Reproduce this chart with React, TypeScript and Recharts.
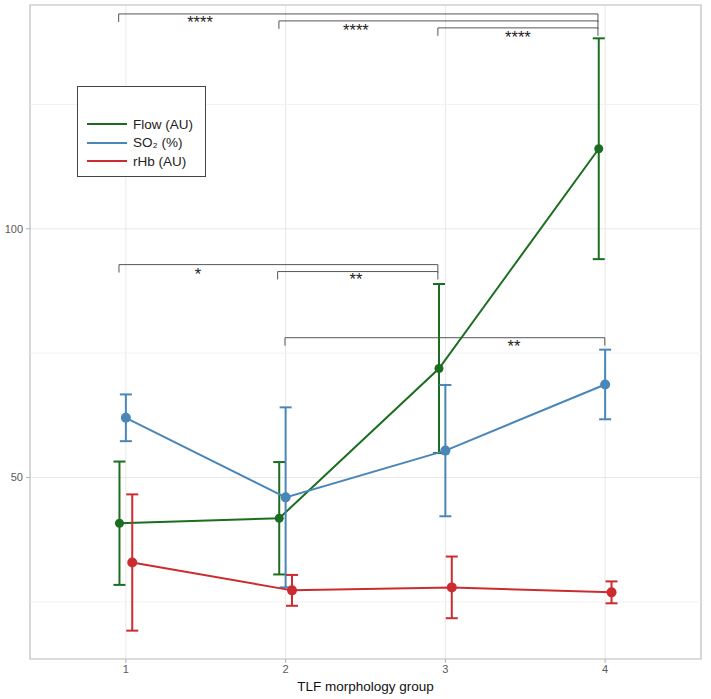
import React from 'react';
import {
  ComposedChart,
  Line,
  ErrorBar,
  XAxis,
  YAxis,
  CartesianGrid,
  ReferenceLine,
  ReferenceDot,
  ReferenceArea,
  Label,
} from 'recharts';

// groups on the x axis, series are dodged a little around each group
const groups = [1, 2, 3, 4];
const dodge = 0.04;

const flowMean = [40.8, 41.8, 71.9, 116.1];
const flowSd = [12.4, 11.3, 17.0, 22.2];

const so2Mean = [62.0, 46.0, 55.4, 68.7];
const so2Sd = [4.7, 18.1, 13.2, 7.0];

const rhbMean = [32.9, 27.3, 27.9, 26.9];
const rhbSd = [13.7, 3.1, 6.2, 2.2];

const yTicks = [50, 100];
const yMinor = [25, 75, 125];

// significance brackets: from group x1 to x2 at height y
const brackets = [
  { x1: 0.955, x2: 3.955, y: 143.2, label: '****', labelX: 1.464, labelY: 141.6 },
  { x1: 1.958, x2: 3.955, y: 141.8, label: '****', labelX: 2.44, labelY: 140.0 },
  { x1: 2.953, x2: 3.955, y: 140.4, label: '****', labelX: 3.454, labelY: 138.6 },
  { x1: 0.957, x2: 2.953, y: 92.8, label: '*', labelX: 1.451, labelY: 90.8 },
  { x1: 1.95, x2: 2.953, y: 91.4, label: '**', labelX: 2.44, labelY: 89.8 },
  { x1: 1.996, x2: 3.998, y: 78.1, label: '**', labelX: 3.429, labelY: 76.5 },
];
const bracketDrop = 1.6;

const series = [
  { name: 'Flow (AU)', mean: flowMean, sd: flowSd, shift: -dodge, color: '#1b6e1f', r: 4.5 },
  { name: 'SO₂ (%)', mean: so2Mean, sd: so2Sd, shift: 0, color: '#4a86b8', r: 5 },
  { name: 'rHb (AU)', mean: rhbMean, sd: rhbSd, shift: dodge, color: '#cc2c30', r: 5 },
];

const FONT = '"Liberation Sans", Arial, sans-serif';
const X_DOMAIN = [0.4, 4.6];
const Y_DOMAIN = [13.5, 145];

export default function App() {
  return (
    <div style={{ position: 'absolute', left: 0, top: 0, width: 711, height: 699, background: '#fff', fontFamily: FONT }}>
      <ComposedChart width={711} height={699} margin={{ top: 5, right: 10, bottom: 0, left: 0 }}>
        <CartesianGrid stroke="#e8e8e8" strokeWidth={1} />
        {yMinor.map((v) => (
          <ReferenceLine key={`minor-${v}`} y={v} stroke="#f2f2f2" strokeWidth={1} />
        ))}
        <XAxis
          type="number"
          dataKey="x"
          domain={X_DOMAIN}
          ticks={groups}
          allowDataOverflow
          axisLine={false}
          tickLine={{ stroke: '#b3b3b3' }}
          tickSize={4}
          tickMargin={2}
          height={40}
          tick={{ fill: '#5a5a5a', fontSize: 11, fontFamily: FONT }}
        >
          <Label value="TLF morphology group" position="insideBottom" offset={8} fill="#111" fontSize={13.5} fontFamily={FONT} />
        </XAxis>
        <YAxis
          type="number"
          domain={Y_DOMAIN}
          ticks={yTicks}
          allowDataOverflow
          axisLine={false}
          tickLine={{ stroke: '#b3b3b3' }}
          tickSize={4}
          tickMargin={3}
          width={30}
          tick={{ fill: '#5a5a5a', fontSize: 11, fontFamily: FONT }}
        />
        <ReferenceArea x1={X_DOMAIN[0]} x2={X_DOMAIN[1]} y1={Y_DOMAIN[0]} y2={Y_DOMAIN[1]} fill="none" stroke="#c4c4c4" strokeWidth={1.2} />

        {brackets.map((b, i) => (
          <ReferenceLine
            key={`bl-${i}`}
            segment={[{ x: b.x1, y: b.y - bracketDrop }, { x: b.x1, y: b.y }]}
            stroke="#555"
            strokeWidth={1}
          />
        ))}
        {brackets.map((b, i) => (
          <ReferenceLine
            key={`bm-${i}`}
            segment={[{ x: b.x1, y: b.y }, { x: b.x2, y: b.y }]}
            stroke="#555"
            strokeWidth={1}
          />
        ))}
        {brackets.map((b, i) => (
          <ReferenceLine
            key={`br-${i}`}
            segment={[{ x: b.x2, y: b.y }, { x: b.x2, y: b.y - bracketDrop }]}
            stroke="#555"
            strokeWidth={1}
          />
        ))}
        {brackets.map((b, i) => (
          <ReferenceDot
            key={`bt-${i}`}
            x={b.labelX}
            y={b.labelY}
            r={0}
            fill="none"
            stroke="none"
            label={{ value: b.label, position: 'center', fill: '#222', fontSize: 16.5, fontFamily: FONT }}
          />
        ))}

        {series.map((s) => (
          <Line
            key={s.name}
            name={s.name}
            data={groups.map((g, i) => ({ x: g + s.shift, v: s.mean[i], e: s.sd[i] }))}
            dataKey="v"
            stroke={s.color}
            strokeWidth={2}
            dot={{ r: s.r, fill: s.color, stroke: s.color, strokeWidth: 0 }}
            activeDot={false}
            isAnimationActive={false}
          >
            <ErrorBar dataKey="e" direction="y" width={6} stroke={s.color} strokeWidth={2} />
          </Line>
        ))}
      </ComposedChart>

      {/* Legend */}
      <div
        style={{
          position: 'absolute',
          left: 77,
          top: 86,
          width: 129,
          height: 91,
          border: '1px solid #444',
          boxSizing: 'border-box',
          background: '#fff',
        }}
      >
        {series.map((s, i) => (
          <div
            key={s.name}
            style={{ position: 'absolute', left: 9, top: 28 + i * 18.5, height: 18, display: 'flex', alignItems: 'center' }}
          >
            <div style={{ width: 40, height: 2, background: s.color }} />
            <span style={{ marginLeft: 6, fontSize: 13.5, color: '#222', fontFamily: FONT }}>{s.name}</span>
          </div>
        ))}
      </div>
    </div>
  );
}
